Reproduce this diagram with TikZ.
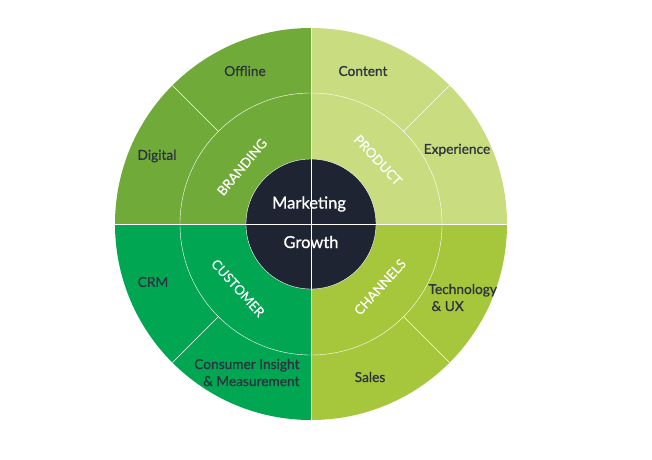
\documentclass[tikz,border=0pt]{standalone}
\usepackage{fontspec}
\setmainfont{Lato}
\newfontfamily\semifont{Lato}[FakeBold=0.9]
\newfontfamily\ringfont{Lato}[FakeBold=0.3]
\definecolor{brandgreen}{RGB}{112,170,57}
\definecolor{productgreen}{RGB}{201,220,128}
\definecolor{channelsgreen}{RGB}{166,198,60}
\definecolor{customergreen}{RGB}{0,166,81}
\definecolor{hubdark}{RGB}{31,36,51}
\definecolor{labeltext}{RGB}{45,52,64}
\begin{document}
\begin{tikzpicture}[x=1pt,y=1pt,
    ringlabel/.style={text=white,font=\ringfont\fontsize{13.2}{14}\selectfont},
    outerlabel/.style={text=labeltext,font=\semifont\fontsize{13.7}{17}\selectfont},
    hublabel/.style={text=white,font=\semifont\fontsize{16.5}{18}\selectfont}]
    \useasboundingbox (-311,-235) rectangle (341,224);
    % Quadrants of the wheel
    \foreach \a/\c in {90/brandgreen,0/productgreen,270/channelsgreen,180/customergreen} {
        \fill[\c] (0,0) -- (\a:196) arc (\a:\a+90:196) -- cycle;
    }
    \draw[white,thin] (0,0) circle (131);
    \foreach \a in {45,135,225,315} {
        \draw[white,thin] (\a:131) -- (\a:196);
    }
    % Hub
    \node[circle,fill=hubdark,draw=white,thin,minimum size=130,inner sep=0] (hub) at (0,0) {};
    \draw[white,thin] (-196,0) -- (196,0);
    \draw[white,thin] (0,-196) -- (0,196);
    \node[hublabel] (marketing) at (-2,20) {Marketing};
    \node[hublabel] (growth) at (0,-18) {Growth};
    % Ring labels
    \node[ringlabel,rotate=50] (branding) at (-69,57) {BRANDING};
    \node[ringlabel,rotate=-47] (product) at (67,64) {PRODUCT};
    \node[ringlabel,rotate=-48] (customer) at (-73,-64) {CUSTOMER};
    \node[ringlabel,rotate=48] (channels) at (69,-63) {CHANNELS};
    % Outer labels
    \node[outerlabel] (offline) at (-66,153) {Offline};
    \node[outerlabel] (digital) at (-154,68) {Digital};
    \node[outerlabel] (content) at (52,153) {Content};
    \node[outerlabel] (experience) at (146,74) {Experience};
    \node[outerlabel] (crm) at (-158,-58) {CRM};
    \node[outerlabel,anchor=east,align=right] (insight) at (-8,-148.5) {Consumer Insight\\\& Measurement};
    \node[outerlabel,anchor=west,align=left] (techux) at (114,-73.5) {Technology\\\hspace{3pt}\& UX};
    \node[outerlabel] (sales) at (59,-153) {Sales};
\end{tikzpicture}
\end{document}
